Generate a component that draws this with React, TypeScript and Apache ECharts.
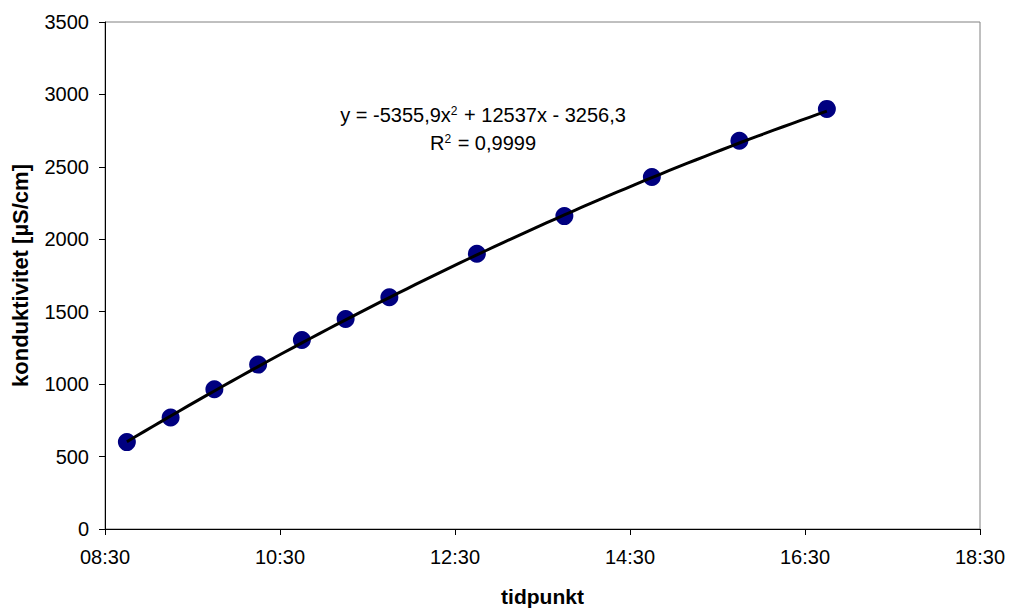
import React, { useEffect, useRef } from "react";
import * as echarts from "echarts";

// Measurement times (hh:mm) and conductivity readings in µS/cm
const times = ["08:45", "09:15", "09:45", "10:15", "10:45", "11:15", "11:45", "12:45", "13:45", "14:45", "15:45", "16:45"];
const conductivity = [600, 770, 965, 1135, 1305, 1450, 1600, 1900, 2160, 2430, 2680, 2900];

// Polynomial trendline, x as fraction of a day
const coefA = -5355.9;
const coefB = 12537;
const coefC = -3256.3;

// Axis range in hours of the day
const axisStartHour = 8.5;
const axisEndHour = 18.5;
const axisStepHours = 2;

const FONT = "'Liberation Sans', Arial, Helvetica, sans-serif";

const toHours = (t: string) => {
  const [h, m] = t.split(":").map(Number);
  return h + m / 60;
};
const fmtHour = (v: number) => {
  const total = Math.round(v * 60);
  const h = Math.floor(total / 60);
  const m = total % 60;
  return `${String(h).padStart(2, "0")}:${String(m).padStart(2, "0")}`;
};

export default function App() {
  const ref = useRef<HTMLDivElement>(null);

  useEffect(() => {
    document.body.style.margin = "0";
    if (!ref.current) return;
    const chart = echarts.init(ref.current, undefined, { renderer: "svg" });

    // x values are hours offset from the axis start so ticks fall on 08:30, 10:30, ...
    const points = times.map((t, i) => [toHours(t) - axisStartHour, conductivity[i]]);

    const first = toHours(times[0]);
    const last = toHours(times[times.length - 1]);
    const trend: number[][] = [];
    const steps = 80;
    for (let i = 0; i <= steps; i++) {
      const h = first + ((last - first) * i) / steps;
      const d = h / 24;
      trend.push([h - axisStartHour, coefA * d * d + coefB * d + coefC]);
    }

    const eqRich = {
      a: { fontFamily: FONT, fontSize: 20, fill: "#000", color: "#000" },
      s: { fontFamily: FONT, fontSize: 12, color: "#000", verticalAlign: "top", padding: [0, 1, 0, 0] },
    };

    chart.setOption({
      animation: false,
      backgroundColor: "#ffffff",
      textStyle: { fontFamily: FONT },
      grid: {
        left: 105,
        right: 29,
        top: 22,
        bottom: 83,
        show: true,
        borderColor: "#808080",
        borderWidth: 1,
        backgroundColor: "transparent",
      },
      xAxis: {
        type: "value",
        min: 0,
        max: axisEndHour - axisStartHour,
        interval: axisStepHours,
        name: "tidpunkt",
        nameLocation: "middle",
        nameGap: 57,
        nameTextStyle: { fontFamily: FONT, fontSize: 21, fontWeight: "bold", color: "#000" },
        axisLine: { show: true, lineStyle: { color: "#000", width: 1 } },
        axisTick: { show: true, length: 6, lineStyle: { color: "#000" } },
        axisLabel: {
          color: "#000",
          fontFamily: FONT,
          fontSize: 20,
          margin: 18,
          formatter: (v: number) => fmtHour(v + axisStartHour),
        },
        splitLine: { show: false },
      },
      yAxis: {
        type: "value",
        min: 0,
        max: 3500,
        interval: 500,
        name: "konduktivitet [µS/cm]",
        nameLocation: "middle",
        nameRotate: 90,
        nameGap: 74,
        nameTextStyle: { fontFamily: FONT, fontSize: 22, fontWeight: "bold", color: "#000" },
        axisLine: { show: true, lineStyle: { color: "#000", width: 1 } },
        axisTick: { show: true, length: 6, lineStyle: { color: "#000" } },
        axisLabel: {
          color: "#000",
          fontFamily: FONT,
          fontSize: 20,
          margin: 16,
          formatter: (v: number) => String(v),
        },
        splitLine: { show: false },
      },
      series: [
        {
          type: "scatter",
          data: points,
          symbol: "circle",
          symbolSize: 18,
          itemStyle: { color: "#000080", opacity: 1 },
          z: 2,
        },
        {
          type: "line",
          data: trend,
          showSymbol: false,
          smooth: false,
          lineStyle: { color: "#000", width: 3 },
          z: 3,
        },
      ],
      graphic: [
        {
          type: "text",
          x: 483,
          y: 115,
          style: {
            text: "{a|y = -5355,9x}{s|2}{a| + 12537x - 3256,3}",
            rich: eqRich,
            align: "center",
            verticalAlign: "middle",
          },
        },
        {
          type: "text",
          x: 483,
          y: 143,
          style: {
            text: "{a|R}{s|2}{a| = 0,9999}",
            rich: eqRich,
            align: "center",
            verticalAlign: "middle",
          },
        },
      ],
    });

    return () => chart.dispose();
  }, []);

  return <div ref={ref} style={{ width: 1009, height: 612 }} />;
}
